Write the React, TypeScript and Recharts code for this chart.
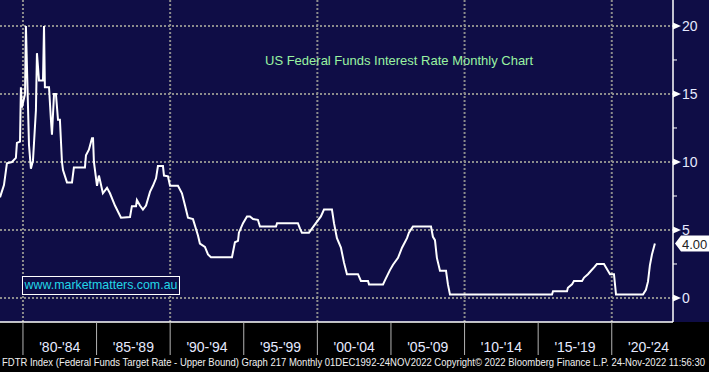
import { LineChart, Line, XAxis, YAxis, CartesianGrid } from 'recharts';

// month positions (decimal years) and FDTR upper bound (%)
const dates = [
  1978.44, 1978.71, 1978.91, 1979.25, 1979.52, 1979.59, 1979.8, 1979.86, 1979.93, 1980.14,
  1980.2, 1980.41, 1980.54, 1980.68, 1980.88, 1980.95, 1981.09, 1981.36, 1981.43, 1981.49,
  1981.77, 1981.9, 1981.97, 1982.11, 1982.24, 1982.38, 1982.51, 1982.65, 1982.72, 1982.99,
  1983.33, 1983.46, 1983.67, 1984.21, 1984.28, 1984.48, 1984.69, 1984.76, 1984.82, 1985.03,
  1985.16, 1985.43, 1985.71, 1985.91, 1986.25, 1986.66, 1987.27, 1987.4, 1987.68, 1987.74,
  1987.95, 1988.15, 1988.36, 1988.63, 1988.83, 1989.04, 1989.17, 1989.51, 1989.58, 1989.85,
  1989.99, 1990.53, 1990.8, 1991.01, 1991.21, 1991.55, 1991.89, 1992.02, 1992.36, 1992.57,
  1992.77, 1994.2, 1994.4, 1994.61, 1994.67, 1994.95, 1995.22, 1995.42, 1995.63, 1995.96,
  1996.1, 1997.19, 1997.26, 1998.68, 1998.82, 1998.95, 1999.43, 1999.63, 1999.9, 2000.24,
  2000.45, 2000.99, 2001.13, 2001.33, 2001.6, 2001.81, 2002.01, 2002.76, 2002.96, 2003.44,
  2003.51, 2004.46, 2004.59, 2004.93, 2005.14, 2005.48, 2005.75, 2006.09, 2006.22, 2006.49,
  2007.72, 2007.85, 2007.99, 2008.12, 2008.33, 2008.74, 2008.87, 2009.01, 2015.94, 2016.01,
  2016.96, 2017.02, 2017.3, 2017.43, 2017.98, 2018.12, 2018.38, 2018.59, 2018.8, 2018.99,
  2019.47, 2019.74, 2019.88, 2020.15, 2020.29, 2022.12, 2022.32, 2022.46, 2022.59, 2022.73,
  2022.93,
];
const rates = [
  7.4, 8.3, 9.9, 10.0, 10.3, 11.4, 11.5, 15.5, 14.0, 15.0,
  20.0, 11.25, 9.5, 10.1, 13.8, 18.0, 16.0, 16.0, 20.0, 15.5,
  15.5, 13.1, 12.0, 15.0, 15.0, 13.1, 13.1, 10.0, 9.4, 8.5,
  8.5, 9.6, 9.6, 9.6, 10.5, 10.9, 11.75, 11.75, 10.0, 8.25,
  9.0, 7.7, 8.1, 7.7, 6.8, 5.9, 5.95, 6.75, 6.75, 7.2,
  6.8, 6.5, 6.8, 7.8, 8.25, 8.8, 9.7, 9.7, 9.0, 8.95,
  8.25, 8.25, 7.7, 6.8, 5.9, 5.8, 4.6, 4.0, 3.75, 3.2,
  3.0, 3.0, 4.1, 4.2, 4.8, 5.5, 6.0, 6.0, 5.8, 5.75,
  5.25, 5.25, 5.5, 5.5, 5.1, 4.8, 4.8, 5.1, 5.5, 6.0,
  6.5, 6.5, 5.5, 4.4, 3.7, 2.6, 1.75, 1.75, 1.25, 1.25,
  1.0, 1.0, 1.3, 2.05, 2.45, 2.95, 3.7, 4.4, 4.8, 5.25,
  5.25, 4.5, 4.25, 2.95, 2.0, 2.0, 1.0, 0.25, 0.25, 0.5,
  0.5, 0.75, 1.0, 1.25, 1.25, 1.5, 1.75, 2.0, 2.25, 2.5,
  2.5, 2.0, 1.75, 1.75, 0.25, 0.25, 0.6, 1.2, 2.4, 3.2,
  4.0,
];

const yMajorTicks = [0, 5, 10, 15, 20];
const yMinorTicks = [2.5, 7.5, 12.5, 17.5];
const gridYears = [1980, 1990, 2000, 2010, 2020];
const periodBounds = [1980, 1985, 1990, 1995, 2000, 2005, 2010, 2015, 2020];
const periodMids = [1982.5, 1987.5, 1992.5, 1997.5, 2002.5, 2007.5, 2012.5, 2017.5, 2022.5];
const periodLabels = ["'80-'84", "'85-'89", "'90-'94", "'95-'99", "'00-'04", "'05-'09", "'10-'14", "'15-'19", "'20-'24"];
const lastRate = rates[rates.length - 1];

const chartData = dates.map((d, i) => ({ date: d, rate: rates[i] }));

const W = 709;
const H = 372;
const NAVY = '#0f0d46';
const LABEL = '#e6eaff';
const FONT = "'Liberation Sans', Arial, sans-serif";

function XTick(props: any) {
  const { x, y, payload } = props;
  const i = periodMids.indexOf(payload.value);
  if (i >= 0) {
    return (
      <text x={x} y={y + 30} textAnchor="middle" fill={LABEL} fontSize={14} fontFamily={FONT}>
        {periodLabels[i]}
      </text>
    );
  }
  return <line x1={x} x2={x} y1={y} y2={y + 33} stroke="#b4b4b4" strokeWidth={1} />;
}

function YTick(props: any) {
  const { x, y, payload } = props;
  const v = payload.value;
  if (v === lastRate && !yMajorTicks.includes(v)) {
    return (
      <g>
        <polygon
          points={`${x + 2},${y} ${x + 8},${y - 8} ${x + 37},${y - 8} ${x + 37},${y + 8} ${x + 8},${y + 8}`}
          fill="#ffffff"
        />
        <text x={x + 9} y={y + 5} fill="#222222" fontSize={13} fontFamily={FONT}>
          {lastRate.toFixed(2)}
        </text>
      </g>
    );
  }
  if (yMajorTicks.includes(v)) {
    return (
      <g>
        <polygon points={`${x},${y - 3.5} ${x + 8},${y} ${x},${y + 3.5}`} fill="#ffffff" />
        <text x={x + 9} y={y + 5} fill={LABEL} fontSize={14} fontFamily={FONT}>
          {v}
        </text>
      </g>
    );
  }
  return <line x1={x} x2={x + 4} y1={y} y2={y} stroke="#ffffff" strokeWidth={1} />;
}

export default function App() {
  return (
    <div style={{ position: 'absolute', left: 0, top: 0, width: W, height: H, background: '#000000', overflow: 'hidden' }}>
      <div style={{ position: 'absolute', left: 0, top: 0, width: W, height: 322, background: NAVY }} />
      <div style={{ position: 'absolute', left: 0, top: 0 }}>
        <LineChart width={W} height={H} data={chartData} margin={{ top: 0, right: 0, bottom: 15, left: 0 }}>
          <CartesianGrid
            horizontalValues={yMajorTicks}
            verticalValues={gridYears}
            stroke="#8c8c8c"
            strokeWidth={2}
            strokeDasharray="2 2"
          />
          <XAxis
            dataKey="date"
            type="number"
            domain={[1978.44, 2024.16]}
            allowDataOverflow
            ticks={[...periodBounds, ...periodMids].sort((a, b) => a - b)}
            interval={0}
            height={35}
            tickSize={0}
            tickMargin={0}
            tickLine={false}
            axisLine={{ stroke: '#ffffff', strokeWidth: 1.5 }}
            tick={XTick}
          />
          <YAxis
            orientation="right"
            type="number"
            domain={[-1.765, 21.91]}
            allowDataOverflow
            ticks={[...yMajorTicks, ...yMinorTicks, lastRate]}
            interval={0}
            width={36}
            tickSize={0}
            tickMargin={0}
            tickLine={false}
            axisLine={{ stroke: '#ffffff', strokeWidth: 1.5 }}
            tick={YTick}
          />
          <Line
            type="linear"
            dataKey="rate"
            stroke="#ffffff"
            strokeWidth={2}
            dot={false}
            activeDot={false}
            isAnimationActive={false}
          />
        </LineChart>
      </div>
      <div
        style={{
          position: 'absolute',
          left: 265,
          top: 53,
          color: '#9af3a2',
          fontFamily: FONT,
          fontSize: 13,
          whiteSpace: 'nowrap',
        }}
      >
        US Federal Funds Interest Rate Monthly Chart
      </div>
      <div
        style={{
          position: 'absolute',
          left: 22,
          top: 276,
          width: 156,
          height: 17,
          border: '1px solid #ffffff',
          color: '#22d6e6',
          fontFamily: FONT,
          fontSize: 12.4,
          lineHeight: '17px',
          whiteSpace: 'nowrap',
          textAlign: 'center',
          background: NAVY,
        }}
      >
        www.marketmatters.com.au
      </div>
      <svg style={{ position: 'absolute', left: 0, top: 354 }} width={W} height={18}>
        <text
          x={2}
          y={12}
          fill="#f0f0f0"
          fontSize={11}
          fontFamily={FONT}
          textLength={703}
          lengthAdjust="spacingAndGlyphs"
        >
          FDTR Index (Federal Funds Target Rate - Upper Bound) Graph 217  Monthly 01DEC1992-24NOV2022 Copyright© 2022 Bloomberg Finance L.P. 24-Nov-2022 11:56:30
        </text>
      </svg>
    </div>
  );
}
